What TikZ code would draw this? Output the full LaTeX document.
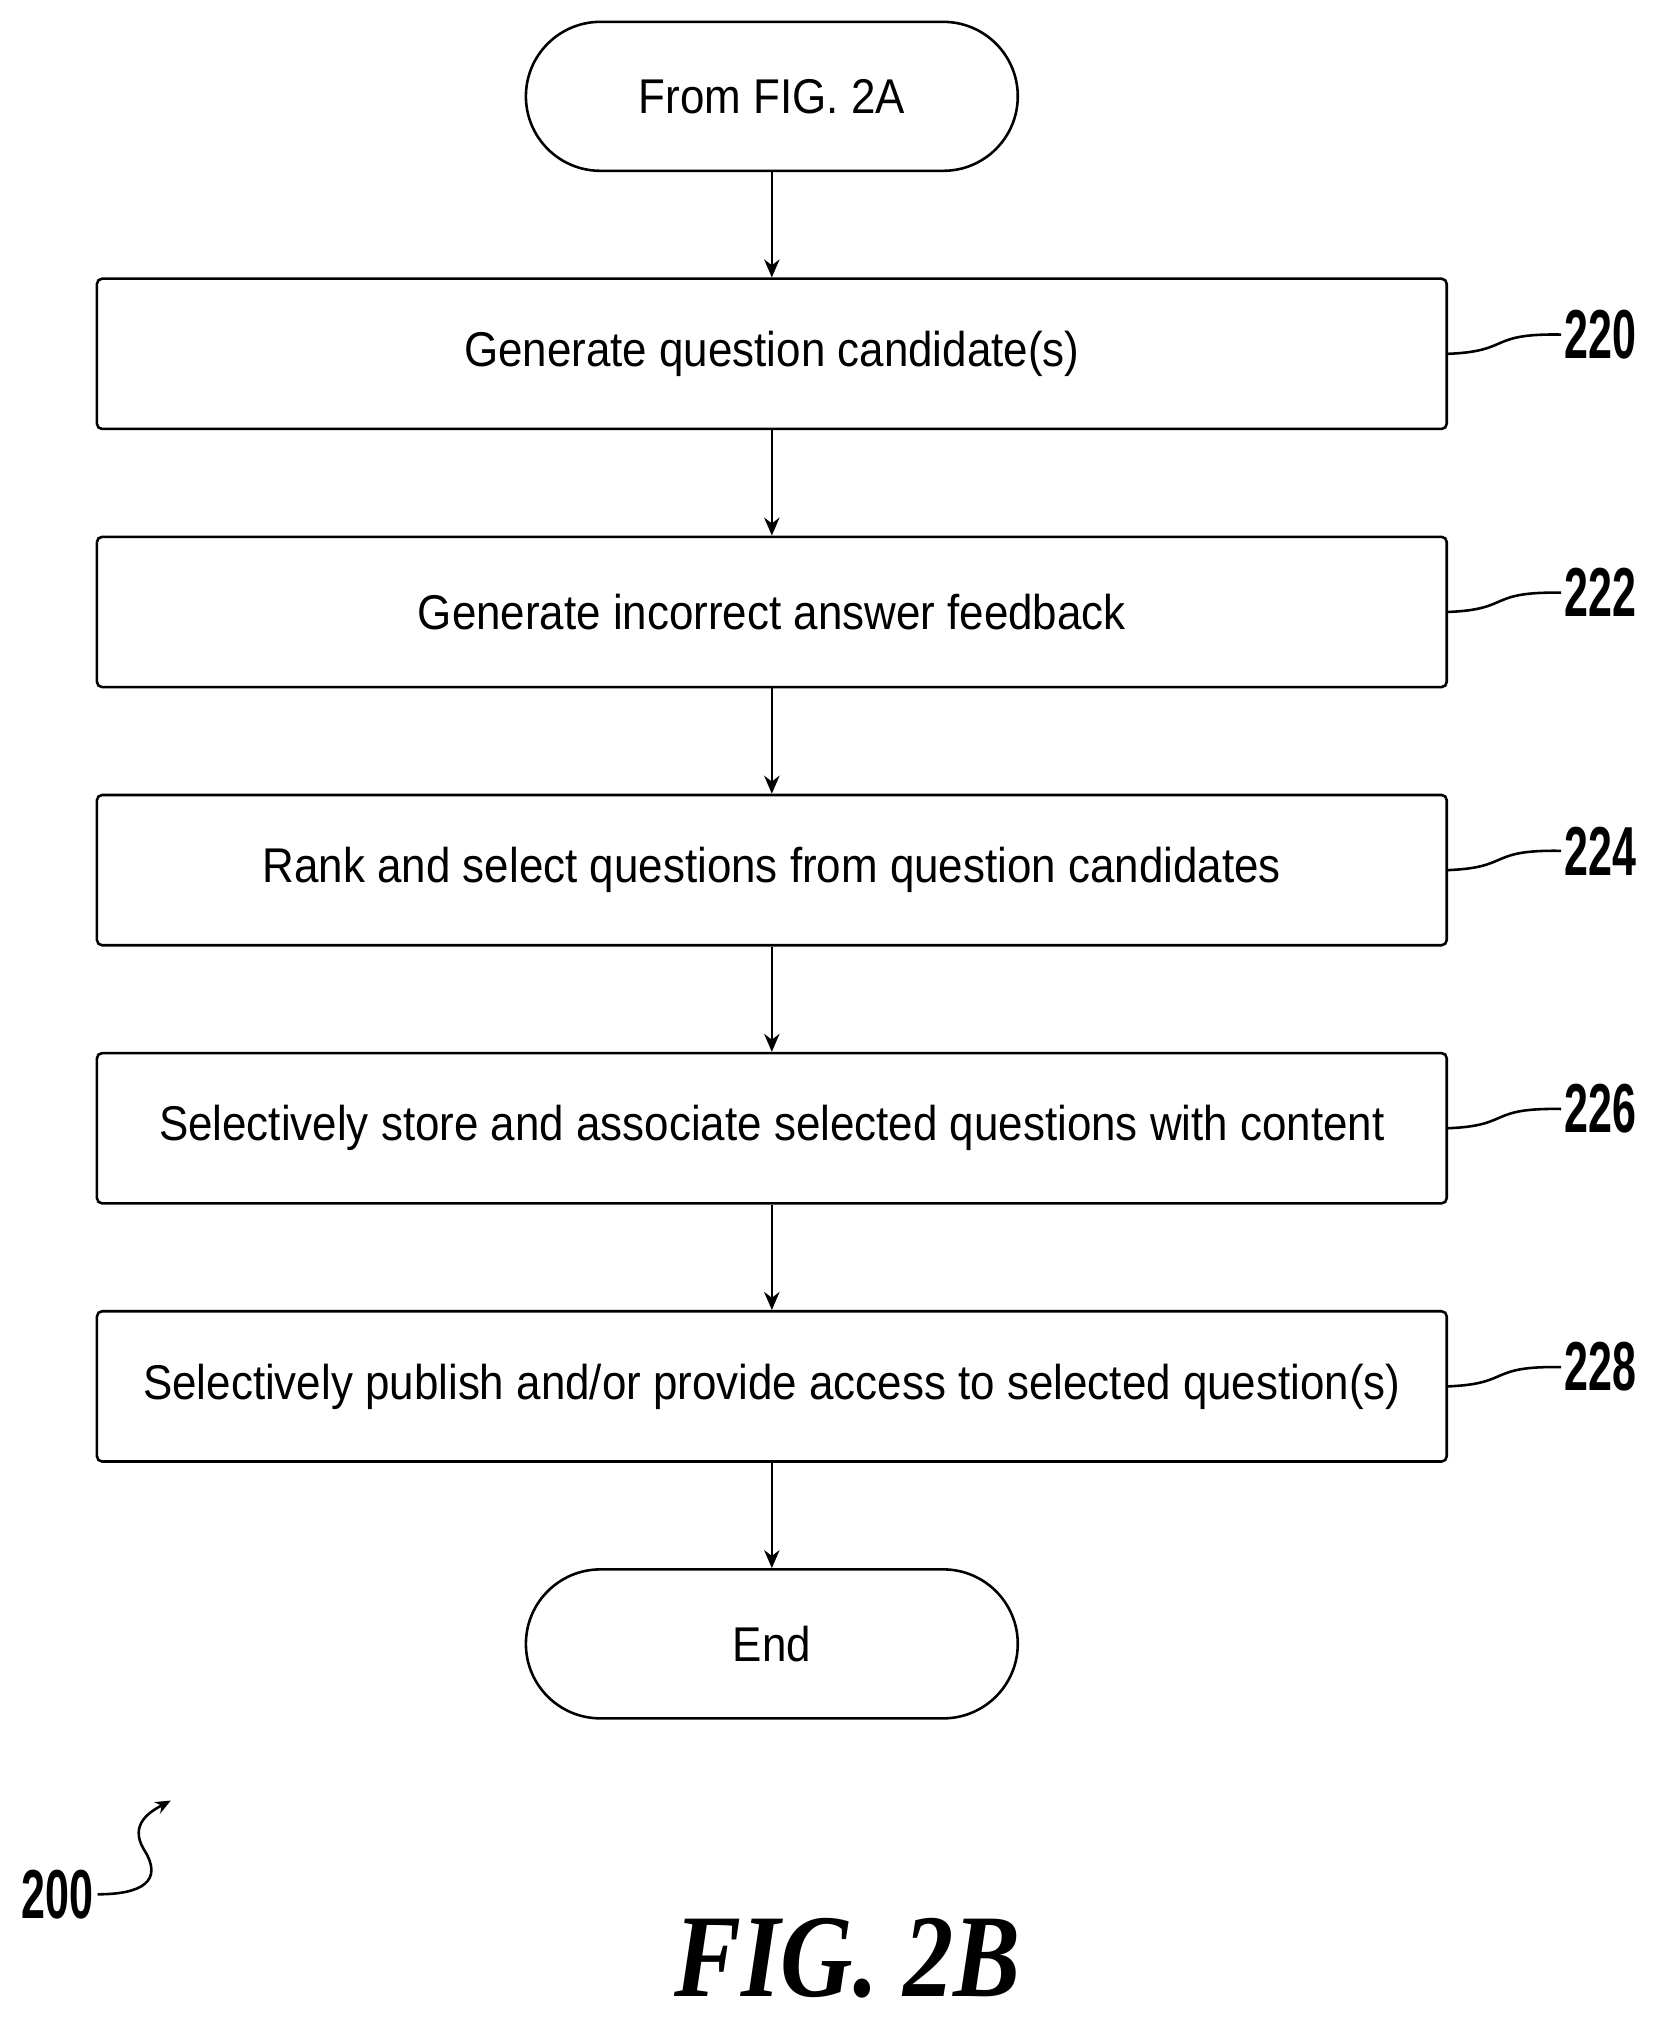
\documentclass[tikz,border=0pt]{standalone}
\usepackage{fontspec}
\setmainfont{Liberation Sans}[FakeStretch=0.90]
\newfontfamily\reffont{Liberation Sans}[FakeStretch=0.62]
\newfontfamily\figfont{Liberation Serif}[FakeStretch=0.85]
\usetikzlibrary{positioning,calc,arrows.meta}
\begin{document}
\begin{tikzpicture}[x=0.5pt,y=-0.5pt,line width=1pt]

\tikzset{
     process/.style={
     	rectangle,
  	 	draw=black,
  	 	rounded corners=2pt,
  	 	minimum height=58.5pt,minimum width=525.5pt,
  	 	font=\fontsize{19}{22}\selectfont,
  	 	inner sep=0pt
     }
}

\tikzset{
	terminal/.style={
		rectangle,
		draw=black,
		rounded corners=29pt,
		minimum height=58pt,minimum width=191.5pt,
		font=\fontsize{19}{22}\selectfont
	}
}

\tikzset{
	flow/.style={-{Stealth[length=7pt,width=6pt]}},
	refnum/.style={font=\reffont\bfseries\fontsize{27}{30}\selectfont,anchor=west,inner sep=1pt}
}

\def\ecart{41pt}

\useasboundingbox (0,0) rectangle (1300,1576);

% start
\node[terminal] (start) at (601,75) {From FIG. 2A};

% steps
\node[process,below=\ecart of start] (gen) {Generate question candidate(s)};
\node[process,below=\ecart of gen] (feedback) {Generate incorrect answer feedback};
\node[process,below=\ecart of feedback] (rank) {Rank and select questions from question candidates};
\node[process,below=\ecart of rank] (store) {Selectively store and associate selected questions with content};
\node[process,below=\ecart of store] (publish) {Selectively publish and/or provide access to selected question(s)};

% end
\node[terminal,below=\ecart of publish] (end) {End};

\foreach \a/\b in {start/gen,gen/feedback,feedback/rank,rank/store,store/publish,publish/end}
	\draw[flow] (\a) -- (\b);

% reference numerals
\foreach \n/\t in {gen/220,feedback/222,rank/224,store/226,publish/228}{
	\node[refnum] (n\t) at ($(\n.east)+(88,-15)$) {\t};
	\draw (\n.east) .. controls ($(\n.east)+(50,-2)$) and ($(\n.east)+(30,-16)$) .. (n\t.west);
}

% figure number
\node[font=\reffont\bfseries\fontsize{27}{30}\selectfont,inner sep=1pt] (fig) at (45,1475) {200};
\coordinate (tip) at (133,1402);
\draw[-{Stealth[length=6pt,width=5pt]}] (fig.east) .. controls (110,1475) and (128,1465) .. (112,1440)
	.. controls (100,1420) and (118,1410) .. (tip);

\node[font=\figfont\bfseries\itshape\fontsize{46}{50}\selectfont] (title) at (660,1525) {FIG. 2B};

\end{tikzpicture}
\end{document}
